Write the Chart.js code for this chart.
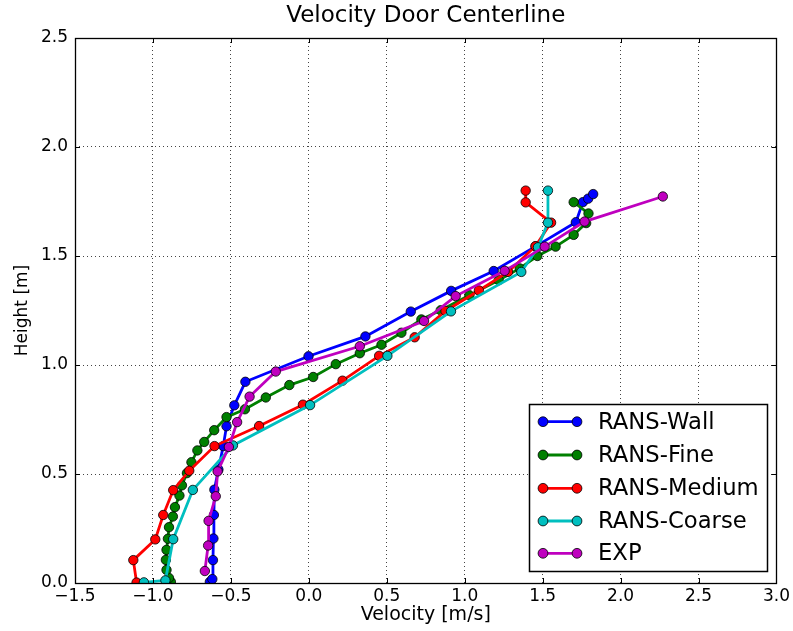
<!DOCTYPE html>
<html>
<head>
<meta charset="utf-8">
<script src="https://cdn.jsdelivr.net/npm/chart.js@4.4.1/dist/chart.umd.min.js"></script>
<style>
  html, body { margin: 0; padding: 0; background: #ffffff; }
  #wrap { width: 793px; height: 631px; position: relative; }
</style>
</head>
<body>
<div id="wrap"><canvas id="c" width="793" height="631"></canvas></div>
<script>
// ---- Data ----
const seriesNames = ["RANS-Wall", "RANS-Fine", "RANS-Medium", "RANS-Coarse", "EXP"];

const wallX = [-0.635, -0.619, -0.615, -0.612, -0.609, -0.606, -0.580, -0.549, -0.528, -0.478, -0.407, -0.002, 0.363, 0.654, 0.913, 1.186, 1.455, 1.713, 1.758, 1.792, 1.824];
const wallY = [0.005, 0.018, 0.105, 0.204, 0.312, 0.428, 0.520, 0.628, 0.719, 0.815, 0.923, 1.040, 1.131, 1.245, 1.340, 1.431, 1.544, 1.655, 1.747, 1.763, 1.784];

const fineX = [-0.885, -0.897, -0.913, -0.917, -0.913, -0.904, -0.897, -0.872, -0.859, -0.830, -0.814, -0.782, -0.753, -0.715, -0.671, -0.607, -0.528, -0.410, -0.276, -0.125, 0.028, 0.173, 0.327, 0.466, 0.594, 0.722, 0.846, 1.030, 1.218, 1.353, 1.466, 1.583, 1.699, 1.779, 1.794, 1.699];
const fineY = [0.005, 0.023, 0.060, 0.106, 0.152, 0.203, 0.256, 0.305, 0.348, 0.401, 0.448, 0.504, 0.554, 0.608, 0.647, 0.701, 0.761, 0.797, 0.851, 0.908, 0.945, 1.004, 1.054, 1.093, 1.148, 1.209, 1.251, 1.320, 1.389, 1.443, 1.500, 1.543, 1.597, 1.651, 1.695, 1.747];

const mediumX = [-1.105, -1.126, -0.985, -0.934, -0.870, -0.767, -0.605, -0.319, -0.038, 0.216, 0.451, 0.679, 0.877, 1.091, 1.278, 1.454, 1.554, 1.391, 1.391];
const mediumY = [0.002, 0.105, 0.200, 0.312, 0.426, 0.515, 0.628, 0.720, 0.818, 0.928, 1.042, 1.127, 1.248, 1.342, 1.427, 1.545, 1.653, 1.746, 1.800];

const coarseX = [-1.058, -0.920, -0.870, -0.744, -0.487, 0.008, 0.504, 0.912, 1.363, 1.470, 1.534, 1.534];
const coarseY = [0.003, 0.012, 0.201, 0.427, 0.631, 0.816, 1.042, 1.246, 1.427, 1.540, 1.653, 1.800];

const expX = [-0.667, -0.646, -0.643, -0.597, -0.585, -0.513, -0.460, -0.380, -0.212, 0.327, 0.739, 0.942, 1.256, 1.513, 1.769, 2.271];
const expY = [0.055, 0.172, 0.285, 0.398, 0.512, 0.624, 0.738, 0.855, 0.970, 1.086, 1.202, 1.316, 1.432, 1.543, 1.658, 1.773];

const xTicks = [-1.5, -1.0, -0.5, 0.0, 0.5, 1.0, 1.5, 2.0, 2.5, 3.0];
const yTicks = [0.0, 0.5, 1.0, 1.5, 2.0, 2.5];

const titleText = "Velocity Door Centerline";
const xLabel = "Velocity [m/s]";
const yLabel = "Height [m]";

// ---- Styles ----
const colors = ["#0000ff", "#008000", "#ff0000", "#00bfbf", "#bf00bf"];
const FONT = "'DejaVu Sans', 'Bitstream Vera Sans', sans-serif";

function pts(xs, ys) { return xs.map((x, i) => ({ x: x, y: ys[i] })); }
const seriesData = [pts(wallX, wallY), pts(fineX, fineY), pts(mediumX, mediumY), pts(coarseX, coarseY), pts(expX, expY)];

const datasets = seriesNames.map((name, i) => ({
  label: name,
  data: seriesData[i],
  showLine: true,
  borderColor: colors[i],
  backgroundColor: colors[i],
  borderWidth: 2.8,
  pointRadius: 4.7,
  pointHoverRadius: 4.7,
  pointBackgroundColor: colors[i],
  pointBorderColor: "#000000",
  pointBorderWidth: 0.8,
  tension: 0,
  order: seriesNames.length - 1 - i
}));

function fmt(v) {
  const a = Math.abs(v).toFixed(1);
  return (v < -1e-9 ? "\u2212" : "") + a;
}

const framePlugin = {
  id: "frame",
  afterDraw(chart) {
    const { ctx, chartArea: a, scales } = chart;
    ctx.save();
    // title centred over the axes
    ctx.fillStyle = "#000";
    ctx.font = "23px " + FONT;
    ctx.textAlign = "center";
    ctx.textBaseline = "middle";
    ctx.fillText(titleText, (a.left + a.right) / 2, 16);

    // inward ticks on all four sides
    ctx.strokeStyle = "#000";
    ctx.lineWidth = 1;
    const L = 5;
    ctx.beginPath();
    xTicks.forEach(v => {
      const px = Math.round(scales.x.getPixelForValue(v)) + 0.5;
      ctx.moveTo(px, a.bottom); ctx.lineTo(px, a.bottom - L);
      ctx.moveTo(px, a.top); ctx.lineTo(px, a.top + L);
    });
    yTicks.forEach(v => {
      const py = Math.round(scales.y.getPixelForValue(v)) + 0.5;
      ctx.moveTo(a.left, py); ctx.lineTo(a.left + L, py);
      ctx.moveTo(a.right, py); ctx.lineTo(a.right - L, py);
    });
    ctx.stroke();
    // frame
    ctx.lineWidth = 1.3;
    ctx.strokeRect(Math.round(a.left) + 0.5, Math.round(a.top) + 0.5, Math.round(a.right - a.left), Math.round(a.bottom - a.top));

    // legend (inside lower right)
    const bx = 529, by = 404, bw = 238, bh = 167;
    ctx.fillStyle = "#ffffff";
    ctx.fillRect(bx, by, bw, bh);
    ctx.lineWidth = 1.5;
    ctx.strokeStyle = "#000";
    ctx.strokeRect(bx + 0.5, by + 0.5, bw, bh);
    const rowY = [421.7, 455, 488.3, 521, 553.3];
    ctx.font = "22.7px " + FONT;
    ctx.textBaseline = "middle";
    ctx.textAlign = "left";
    seriesNames.forEach((name, i) => {
      const y = rowY[i];
      ctx.strokeStyle = colors[i];
      ctx.lineWidth = 2.8;
      ctx.beginPath(); ctx.moveTo(543, y); ctx.lineTo(577, y); ctx.stroke();
      [543, 577].forEach(cx => {
        ctx.beginPath(); ctx.arc(cx, y, 4.9, 0, Math.PI * 2);
        ctx.fillStyle = colors[i]; ctx.fill();
        ctx.lineWidth = 0.8; ctx.strokeStyle = "#000"; ctx.stroke();
      });
      ctx.fillStyle = "#000";
      ctx.fillText(name, 598, y + 1);
    });
    ctx.restore();
  }
};

new Chart(document.getElementById("c"), {
  type: "scatter",
  data: { datasets: datasets },
  plugins: [framePlugin],
  options: {
    responsive: false,
    animation: false,
    devicePixelRatio: 1,
    layout: { padding: { left: 0, right: 16, top: 38, bottom: 0 } },
    plugins: {
      legend: { display: false },
      tooltip: { enabled: false },
      title: { display: false }
    },
    scales: {
      x: {
        type: "linear",
        min: -1.5, max: 3.0,
        afterBuildTicks(s) { s.ticks = xTicks.map(v => ({ value: v })); },
        afterFit(s) { s.height = 48; },
        ticks: { color: "#000", font: { family: FONT, size: 17 }, padding: 3, callback: v => fmt(v), maxRotation: 0, autoSkip: false },
        grid: { color: "#444", lineWidth: 1, drawTicks: false },
        border: { display: false, dash: [1, 3] },
        title: { display: true, text: xLabel, color: "#000", font: { family: FONT, size: 19 }, padding: { top: 0, bottom: 5 } }
      },
      y: {
        type: "linear",
        min: 0, max: 2.5,
        afterBuildTicks(s) { s.ticks = yTicks.map(v => ({ value: v })); },
        afterFit(s) { s.width = 75; },
        ticks: { color: "#000", font: { family: FONT, size: 17 }, padding: 7, callback: v => fmt(v), autoSkip: false },
        grid: { color: "#444", lineWidth: 1, drawTicks: false },
        border: { display: false, dash: [1, 3] },
        title: { display: true, text: yLabel, color: "#000", font: { family: FONT, size: 17 }, padding: { top: 12, bottom: 0 } }
      }
    }
  }
});
</script>
</body>
</html>
